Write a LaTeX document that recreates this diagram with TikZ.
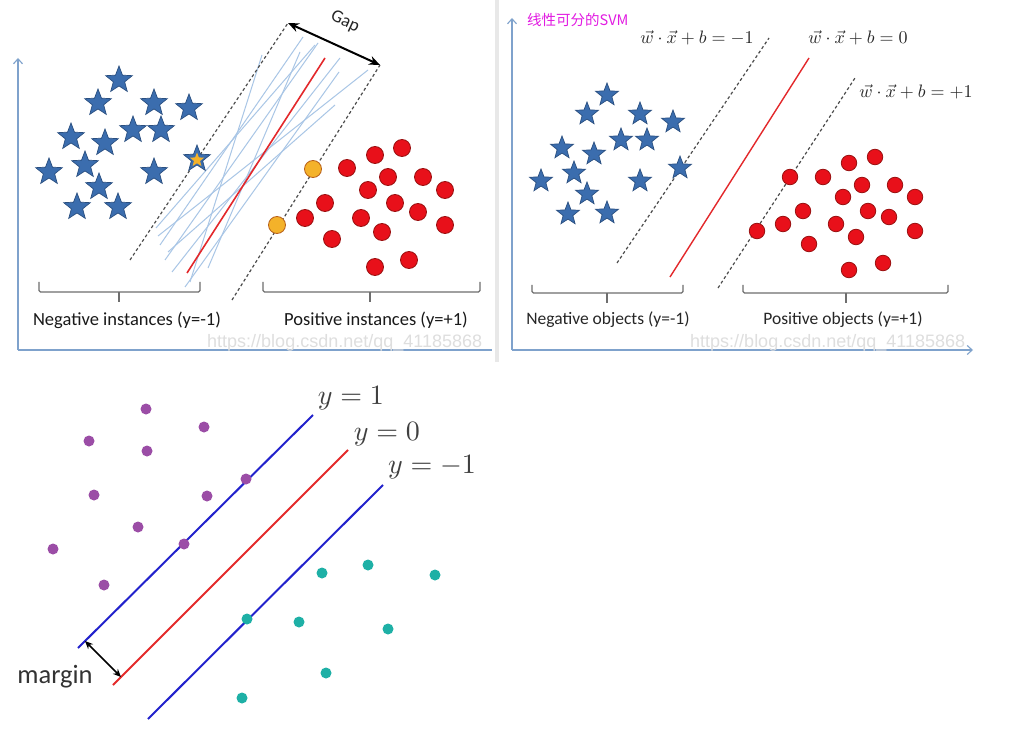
\documentclass[tikz,border=0pt]{standalone}
\usepackage{fontspec}
\usepackage{graphicx}
\usetikzlibrary{shapes.geometric,arrows.meta}
\newfontfamily\calfont{Carlito}
\newfontfamily\cjkfont{Noto Sans CJK SC}
\newfontfamily\wmfont{Liberation Sans}
\definecolor{starblue}{HTML}{3B6DAE}
\definecolor{stardark}{HTML}{2A4F80}
\definecolor{dotred}{HTML}{E8101A}
\definecolor{dotdark}{HTML}{9A1010}
\definecolor{orangedot}{HTML}{F4B22A}
\definecolor{orangedark}{HTML}{B8601A}
\definecolor{axisblue}{HTML}{7FA2CC}
\definecolor{thinblue}{HTML}{A9C6E6}
\definecolor{sepred}{HTML}{E3282B}
\definecolor{bracketgray}{HTML}{6E6E6E}
\definecolor{purp}{HTML}{9B4DA6}
\definecolor{teal2}{HTML}{1EB0A6}
\definecolor{lineblue}{HTML}{2222CC}
\definecolor{linered}{HTML}{E42A2A}
\definecolor{titlemag}{HTML}{E21BE2}
\begin{document}
\begin{tikzpicture}[x=1pt,y=-1pt,
 bstar/.style={star,star points=5,star point ratio=2.35,fill=starblue,draw=stardark,line width=0.7pt,inner sep=0pt,minimum size=28pt},
 sstar/.style={bstar,minimum size=24pt},
 ystar/.style={star,star points=5,star point ratio=2.35,fill=orangedot,draw=none,inner sep=0pt,minimum size=15pt},
 rdot/.style={circle,fill=dotred,draw=dotdark,line width=0.8pt,inner sep=0pt,minimum size=17pt},
 sdot/.style={rdot,minimum size=15.5pt},
 odot/.style={rdot,fill=orangedot,draw=orangedark},
 pdot/.style={circle,fill=purp,inner sep=0pt,minimum size=11pt},
 tdot/.style={circle,fill=teal2,inner sep=0pt,minimum size=11pt},
 axisline/.style={axisblue,line width=1.1pt},
 axisarrow/.style={axisline,-{Straight Barb[length=5pt,width=9pt]}},
 margline/.style={dashed,dash pattern=on 3pt off 2.5pt,black!70,line width=1.2pt},
 thinline/.style={thinblue,line width=1pt},
 brack/.style={bracketgray,line width=1.2pt,rounded corners=1.5pt},
 lab/.style={font=\calfont\fontsize{18.5}{21}\selectfont,text=black!90},
 slab/.style={font=\calfont\fontsize{17.5}{20}\selectfont,text=black!85},
 wm/.style={font=\wmfont\fontsize{18}{20}\selectfont,text=black!13,anchor=west,inner sep=0pt},
 eqlab/.style={text=black!85,inner sep=0pt},
 ylab/.style={text=black!75,inner sep=0pt},
 dbl/.style={{Stealth[length=11pt,width=9pt]}-{Stealth[length=11pt,width=9pt]},line width=2pt},
]
\useasboundingbox (0,0) rectangle (1034,746);
\fill[white] (0,0) rectangle (1034,746);
% separator between top panels
\fill[black!9] (495,0) rectangle (499,362);

%================ TOP LEFT =================
\coordinate (aL0) at (18,350);
\coordinate (aLy) at (18,58);
\coordinate (aLx) at (492,350);
\draw[axisarrow] (aL0) -- (aLy);
\draw[axisline] (aL0) -- (aLx);
% thin blue candidate lines
\draw[thinline] (160,245) -- (303,37);
\draw[thinline] (165,260) -- (318,43);
\draw[thinline] (172,272) -- (340,58);
\draw[thinline] (185,287) -- (339,72);
\draw[thinline] (158,236) -- (368,70);
\draw[thinline] (190,282) -- (262,55);
\draw[thinline] (208,268) -- (300,52);
\draw[thinline] (168,252) -- (335,105);
\draw[thinline] (156,228) -- (315,45);
% dashed margins
\coordinate (dLa1) at (130,260); \coordinate (dLa2) at (288,23);
\coordinate (dLb1) at (232,300); \coordinate (dLb2) at (380,65);
\draw[margline] (dLa1) -- (dLa2);
\draw[margline] (dLb1) -- (dLb2);
% red separator
\coordinate (rL1) at (187,273); \coordinate (rL2) at (325,58);
\draw[sepred,line width=1.6pt] (rL1) -- (rL2);
% gap arrow
\draw[dbl] (dLa2) -- (dLb2);
\node[font=\calfont\fontsize{18}{20}\selectfont,text=black!85,rotate=-24.5] (gap) at (345,22) {Gap};
% stars
\foreach \p [count=\i] in {(119,80),(98,103),(154,103),(189,108),(71,137),(133,130),(161,130),(105,143),(85,165),(49,172),(154,172),(99,187),(77,207),(118,207)}
  \node[bstar] (sL\i) at \p {};
\node[bstar] (sLy) at (197,159) {};
\node[ystar] (sLyc) at (197,160) {};
% circles
\foreach \p [count=\i] in {(402,148),(375,155),(347,168),(388,177),(423,177),(368,190),(445,190),(325,203),(395,203),(418,212),(305,218),(361,218),(445,225),(382,232),(332,239),(409,260),(375,267)}
  \node[rdot] (cL\i) at \p {};
\node[odot] (oL1) at (313,169) {};
\node[odot] (oL2) at (277,225) {};
% brackets
\draw[brack] (39,282) -- (39,292) -- (200,292) -- (200,282);
\draw[brack] (119,292) -- (119,302);
\draw[brack] (263,282) -- (263,292) -- (480,292) -- (480,282);
\draw[brack] (370,292) -- (370,302);
\node[lab] (negL) at (127,320) {Negative instances (y=-1)};
\node[lab] (posL) at (376,320) {Positive instances (y=+1)};
\node[wm] (wmL) at (207,343) {https://blog.csdn.net/qq\_41185868};

%================ TOP RIGHT =================
\coordinate (aR0) at (512,350);
\coordinate (aRy) at (512,18);
\coordinate (aRx) at (973,350);
\draw[axisarrow] (aR0) -- (aRy);
\draw[axisarrow] (aR0) -- (aRx);
\node[font=\cjkfont\fontsize{14.5}{16}\selectfont,text=titlemag,anchor=west,inner sep=0pt] (title) at (527,20) {线性可分的SVM};
% dashed lines and separator
\coordinate (dRa1) at (617,263); \coordinate (dRa2) at (769,38);
\coordinate (dRb1) at (718,288); \coordinate (dRb2) at (855,78);
\draw[margline] (dRa1) -- (dRa2);
\draw[margline] (dRb1) -- (dRb2);
\coordinate (rR1) at (670,277); \coordinate (rR2) at (809,58);
\draw[sepred,line width=1.4pt] (rR1) -- (rR2);
% stars
\foreach \p [count=\i] in {(607,95),(587,114),(640,114),(673,122),(562,148),(621,140),(647,140),(594,154),(680,168),(541,181),(574,173),(640,181),(587,194),(568,214),(607,213)}
  \node[sstar] (sR\i) at \p {};
% circles
\foreach \p [count=\i] in {(875,157),(849,163),(790,177),(823,177),(862,185),(895,185),(843,197),(915,197),(803,211),(868,211),(889,217),(783,224),(836,224),(757,231),(915,231),(809,244),(856,237),(883,263),(849,270)}
  \node[sdot] (cR\i) at \p {};
% equation labels
\node[eqlab] (eqm) at (697,38) {\scalebox{1.8}{$\vec{w}\cdot\vec{x}+b=-1$}};
\node[eqlab] (eq0) at (858,38) {\scalebox{1.8}{$\vec{w}\cdot\vec{x}+b=0$}};
\node[eqlab] (eqp) at (916,92) {\scalebox{1.8}{$\vec{w}\cdot\vec{x}+b=+1$}};
% brackets
\draw[brack] (532,285) -- (532,293) -- (683,293) -- (683,285);
\draw[brack] (607,293) -- (607,303);
\draw[brack] (743,285) -- (743,293) -- (948,293) -- (948,285);
\draw[brack] (846,293) -- (846,303);
\node[slab] (negR) at (608,320) {Negative objects (y=-1)};
\node[slab] (posR) at (843,320) {Positive objects (y=+1)};
\node[wm] (wmR) at (690,343) {https://blog.csdn.net/qq\_41185868};

%================ BOTTOM =================
\coordinate (b1a) at (78,648); \coordinate (b1b) at (313,415);
\coordinate (r0a) at (113,685); \coordinate (r0b) at (348,450);
\coordinate (b2a) at (148,719); \coordinate (b2b) at (383,485);
\draw[lineblue,line width=2pt] (b1a) -- (b1b);
\draw[linered,line width=2pt] (r0a) -- (r0b);
\draw[lineblue,line width=2pt] (b2a) -- (b2b);
\coordinate (m1) at (85,641); \coordinate (m2) at (121,677);
\draw[{Stealth[length=8pt,width=7pt]}-{Stealth[length=8pt,width=7pt]},line width=1.6pt] (m1) -- (m2);
\node[font=\calfont\fontsize{26.5}{28}\selectfont,text=black!80] (margin) at (55,677) {margin};
\node[ylab] (y1) at (351,398) {\scalebox{2.8}{$y=1$}};
\node[ylab] (y0) at (387,434) {\scalebox{2.8}{$y=0$}};
\node[ylab] (ym) at (432,467) {\scalebox{2.8}{$y=-1$}};
\foreach \p [count=\i] in {(146,409),(204,427),(89,441),(147,451),(246,479),(94,495),(207,496),(138,527),(184,544),(53,549),(104,585)}
  \node[pdot] (p\i) at \p {};
\foreach \p [count=\i] in {(322,573),(368,565),(435,575),(247,619),(299,622),(388,629),(326,673),(242,698)}
  \node[tdot] (t\i) at \p {};
\end{tikzpicture}
\end{document}
